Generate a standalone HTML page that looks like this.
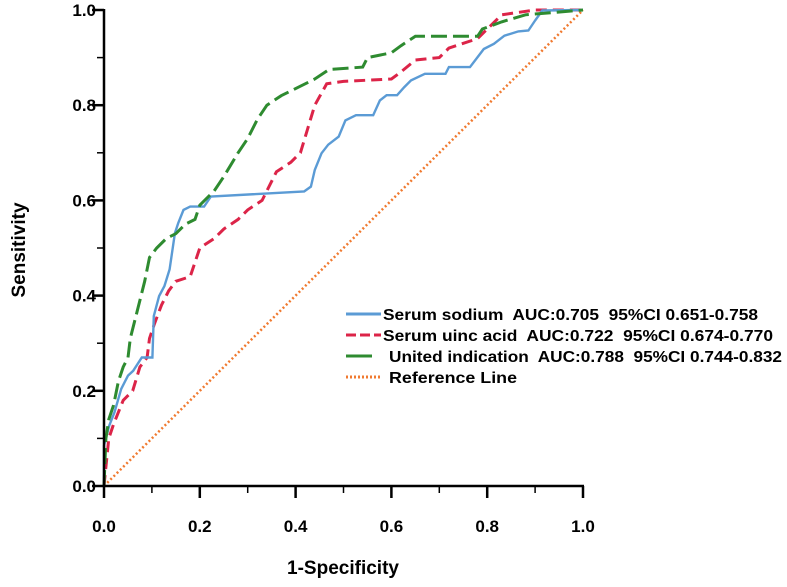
<!DOCTYPE html>
<html><head><meta charset="utf-8"><style>
body{margin:0;background:#fff}
svg{display:block;font-family:"Liberation Sans",sans-serif}
</style></head><body>
<svg id="chart" width="787" height="587" viewBox="0 0 787 587">
<g id="marks"></g>
<g id="axes"></g>
<g id="legend"></g>
</svg>
<script>
const xTicks=["0.0","0.2","0.4","0.6","0.8","1.0"];
const yTicks=["0.0","0.2","0.4","0.6","0.8","1.0"];
const sodiumX=[0,0,0.011,0.022,0.036,0.05,0.061,0.079,0.101,0.104,0.115,0.126,0.137,0.148,0.155,0.166,0.18,0.209,0.223,0.418,0.432,0.44,0.454,0.468,0.49,0.504,0.526,0.562,0.576,0.59,0.612,0.627,0.641,0.67,0.713,0.72,0.764,0.793,0.814,0.836,0.865,0.886,0.9,0.915,1];
const sodiumY=[0,0.085,0.127,0.155,0.204,0.232,0.242,0.27,0.27,0.357,0.399,0.42,0.455,0.531,0.552,0.58,0.587,0.587,0.608,0.619,0.629,0.664,0.699,0.717,0.734,0.768,0.779,0.779,0.81,0.821,0.821,0.838,0.852,0.866,0.866,0.88,0.88,0.918,0.929,0.946,0.955,0.957,0.978,0.999,1];
const uricX=[0,0.004,0.01,0.02,0.04,0.06,0.075,0.09,0.095,0.105,0.12,0.135,0.15,0.18,0.19,0.2,0.23,0.25,0.28,0.3,0.33,0.36,0.39,0.41,0.425,0.44,0.465,0.5,0.6,0.62,0.65,0.7,0.72,0.78,0.83,0.9,1];
const uricY=[0,0.04,0.1,0.13,0.18,0.2,0.25,0.27,0.31,0.34,0.38,0.41,0.43,0.44,0.47,0.5,0.52,0.54,0.56,0.58,0.6,0.66,0.68,0.7,0.75,0.8,0.845,0.85,0.855,0.87,0.895,0.9,0.92,0.94,0.99,1,1];
const unitedX=[0,0.004,0.01,0.02,0.03,0.04,0.05,0.055,0.07,0.085,0.095,0.11,0.13,0.15,0.17,0.19,0.2,0.23,0.25,0.28,0.3,0.32,0.34,0.37,0.41,0.44,0.47,0.54,0.55,0.6,0.62,0.65,0.78,0.79,0.83,0.88,1];
const unitedY=[0,0.1,0.14,0.17,0.22,0.25,0.27,0.31,0.37,0.43,0.48,0.5,0.52,0.53,0.55,0.56,0.59,0.62,0.65,0.7,0.73,0.77,0.8,0.82,0.84,0.855,0.875,0.88,0.9,0.91,0.925,0.945,0.945,0.96,0.975,0.99,1];
const refX=[0,1];
const refY=[0,1];
const legendLabels=["Serum sodium  AUC:0.705  95%CI 0.651-0.758","Serum uinc acid  AUC:0.722  95%CI 0.674-0.770","United indication  AUC:0.788  95%CI 0.744-0.832","Reference Line"];

const X0=104,X1=583,Y0=486,Y1=10;
const sx=v=>X0+v*(X1-X0);
const sy=v=>Y0-v*(Y0-Y1);
const NS="http://www.w3.org/2000/svg";
function mk(tag,attrs,parent){const e=document.createElementNS(NS,tag);for(const k in attrs)e.setAttribute(k,attrs[k]);parent.appendChild(e);return e;}
const marks=document.getElementById('marks'),axes=document.getElementById('axes'),legend=document.getElementById('legend');

const series=[
 {x:sodiumX,y:sodiumY,c:"#5b9bd5",d:"",w:2.4,name:"serum-sodium-curve"},
 {x:uricX,y:uricY,c:"#dc2448",d:"11 6",w:3,name:"serum-uric-acid-curve"},
 {x:unitedX,y:unitedY,c:"#2e8b30",d:"16 6",w:3,name:"united-indication-curve"},
 {x:refX,y:refY,c:"#f07a30",d:"2 2.5",w:2.5,name:"reference-line"}
];
const order=[3,1,0,2];
order.forEach(i=>{const s=series[i];
 const pts=s.x.map((v,j)=>sx(v).toFixed(1)+","+sy(s.y[j]).toFixed(1)).join(" ");
 const p=mk('polyline',{points:pts,fill:"none",stroke:s.c,"stroke-width":s.w,"stroke-dasharray":s.d},marks);
 
 
});

let a=mk('line',{x1:X0,y1:Y0,x2:X1+1,y2:Y0,stroke:"#000","stroke-width":2.5},axes);


a=mk('line',{x1:X0,y1:Y0+1,x2:X0,y2:Y1-1,stroke:"#000","stroke-width":2.5},axes);


for(let i=0;i<=10;i++){const v=i/10,maj=i%2==0;
 mk('line',{x1:sx(v),y1:Y0,x2:sx(v),y2:Y0+(maj?12:7),stroke:"#000","stroke-width":maj?2.5:1.5},axes);
 mk('line',{x1:X0,y1:sy(v),x2:X0-(maj?12:7),y2:sy(v),stroke:"#000","stroke-width":maj?2.5:1.5},axes);
}
xTicks.forEach((t,i)=>{const e=mk('text',{x:sx(i/5),y:532,"text-anchor":"middle","font-size":17,"font-weight":"bold"},axes);e.textContent=t;
 
 });
yTicks.forEach((t,i)=>{const e=mk('text',{x:96,y:sy(i/5)+6,"text-anchor":"end","font-size":17,"font-weight":"bold"},axes);e.textContent=t;
 
 });
let e=mk('text',{x:343,y:574,"text-anchor":"middle","font-size":19,"font-weight":"bold"},axes);e.textContent="1-Specificity";


e=mk('text',{x:0,y:0,"text-anchor":"middle","font-size":19,"font-weight":"bold",transform:"translate(25,250) rotate(-90)"},axes);e.textContent="Sensitivity";



const ly=[314,335,356,377];
const lx=[383,383,389,389];
const lw=[375,390,393,128];
[0,1,2,3].forEach(i=>{const s=series[i];
 const l=mk('line',{x1:346,y1:ly[i],x2:i==2?372:381,y2:ly[i],stroke:s.c,"stroke-width":3,"stroke-dasharray":i==0?"":(i==1?"10 4":(i==2?"":"2 2"))},legend);
 
 
 const t=mk('text',{x:lx[i],y:ly[i]+6,"font-size":16,"font-weight":"bold",textLength:lw[i],lengthAdjust:"spacingAndGlyphs"},legend);
 t.setAttribute('style','white-space:pre');
 t.textContent=legendLabels[i];
 
 
});
</script>
</body></html>
